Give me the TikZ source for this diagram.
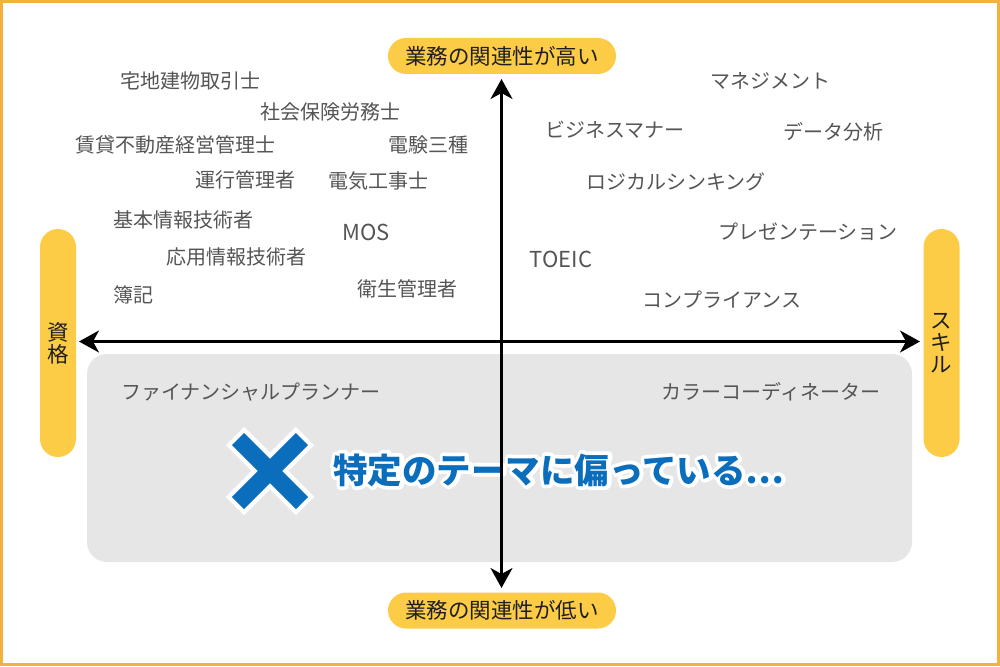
\documentclass[tikz,border=0pt]{standalone}
\usepackage{fontspec}
\setmainfont{Noto Sans CJK JP}
\usetikzlibrary{arrows.meta,calc}
\definecolor{frameor}{HTML}{F5B13F}
\definecolor{pillc}{HTML}{FDCC47}
\definecolor{boxgray}{HTML}{E6E6E6}
\definecolor{labgray}{HTML}{555555}
\definecolor{xblue}{HTML}{0A6EBD}
\newcommand{\halotext}[1]{\rlap{\special{pdf:literal direct q 1 1 1 RG 7.4 w 1 j 1 J 1 Tr}\textcolor{white}{#1}\special{pdf:literal direct 0 Tr Q}}\textcolor{xblue}{#1}}
\tikzset{
  item/.style={font=\fontsize{20}{20}\selectfont, text=labgray, inner sep=0pt},
  latinitem/.style={item, font=\fontsize{22}{22}\selectfont},
  hpill/.style={fill=pillc, rounded corners=18pt, minimum width=228pt, minimum height=36pt,
    inner sep=0pt, font=\fontsize{21.5}{21.5}\selectfont, text=black!88},
  vpill/.style={fill=pillc, rounded corners=18pt, minimum width=36pt, minimum height=228pt,
    inner sep=0pt, align=center, font=\fontsize{21.5}{22}\selectfont, text=black!88},
  axisline/.style={line width=2.4pt, {Stealth[length=20pt,width=22pt,inset=6pt]}-{Stealth[length=20pt,width=22pt,inset=6pt]}},
  bigtxt/.style={font=\fontsize{34.5}{34.5}\selectfont\bfseries, inner sep=0pt},
  xwhite/.style={line width=26pt, white, line cap=butt},
  xbar/.style={line width=17pt, xblue, line cap=butt}
}
\begin{document}
\begin{tikzpicture}[x=1pt,y=-1pt]
\useasboundingbox (0,0) rectangle (1000,666);
\fill[white] (0,0) rectangle (1000,666);
\draw[frameor, line width=2.6pt] (1.3,1.3) rectangle (998.7,664.7);

% gray region
\fill[boxgray, rounded corners=20pt] (87,354) rectangle (912,562);

% pills
\node[hpill] (top) at (502,56) {業務の関連性が高い};
\node[hpill] (bottom) at (502,610.5) {業務の関連性が低い};
\node[vpill] (left) at (58,343) {資\\格};
\node[vpill] (right) at (941.5,343) {ス\\キ\\ル};

% labels upper-left
\node[item] (n1) at (190,81) {宅地建物取引士};
\node[item] (n2) at (330,112) {社会保険労務士};
\node[item] (n3) at (175,145) {賃貸不動産経営管理士};
\node[item] (n4) at (428,145) {電験三種};
\node[item] (n5) at (245,180) {運行管理者};
\node[item] (n6) at (378,181) {電気工事士};
\node[item] (n7) at (183,220) {基本情報技術者};
\node[latinitem] (n8) at (366,232) {MOS};
\node[item] (n9) at (236,257) {応用情報技術者};
\node[item] (n10) at (133,295) {簿記};
\node[item] (n11) at (407,289) {衛生管理者};
% labels upper-right
\node[item] (m1) at (770,81) {マネジメント};
\node[item] (m2) at (615,130) {ビジネスマナー};
\node[item] (m3) at (833,132) {データ分析};
\node[item] (m4) at (676,182) {ロジカルシンキング};
\node[item] (m5) at (808,232) {プレゼンテーション};
\node[latinitem] (m6) at (561,259) {TOEIC};
\node[item] (m7) at (722,300) {コンプライアンス};
% labels in gray region
\node[item] (g1) at (251,392) {ファイナンシャルプランナー};
\node[item] (g2) at (771,392) {カラーコーディネーター};

% cross mark
\draw[xwhite] (235,436) -- (305,506);
\draw[xwhite] (305,436) -- (235,506);
\draw[xbar] (238,439) -- (302,503);
\draw[xbar] (302,439) -- (238,503);

% outlined message
\node[bigtxt] (msg) at (559,470) {\halotext{特定のテーマに偏っている…}};

% axes
\coordinate (vt) at (501.5,79);
\coordinate (vb) at (501.5,588);
\coordinate (hl) at (79,341.5);
\coordinate (hr) at (920,341.5);
\draw[axisline] (vt) -- (vb);
\draw[axisline] (hl) -- (hr);
\end{tikzpicture}
\end{document}
